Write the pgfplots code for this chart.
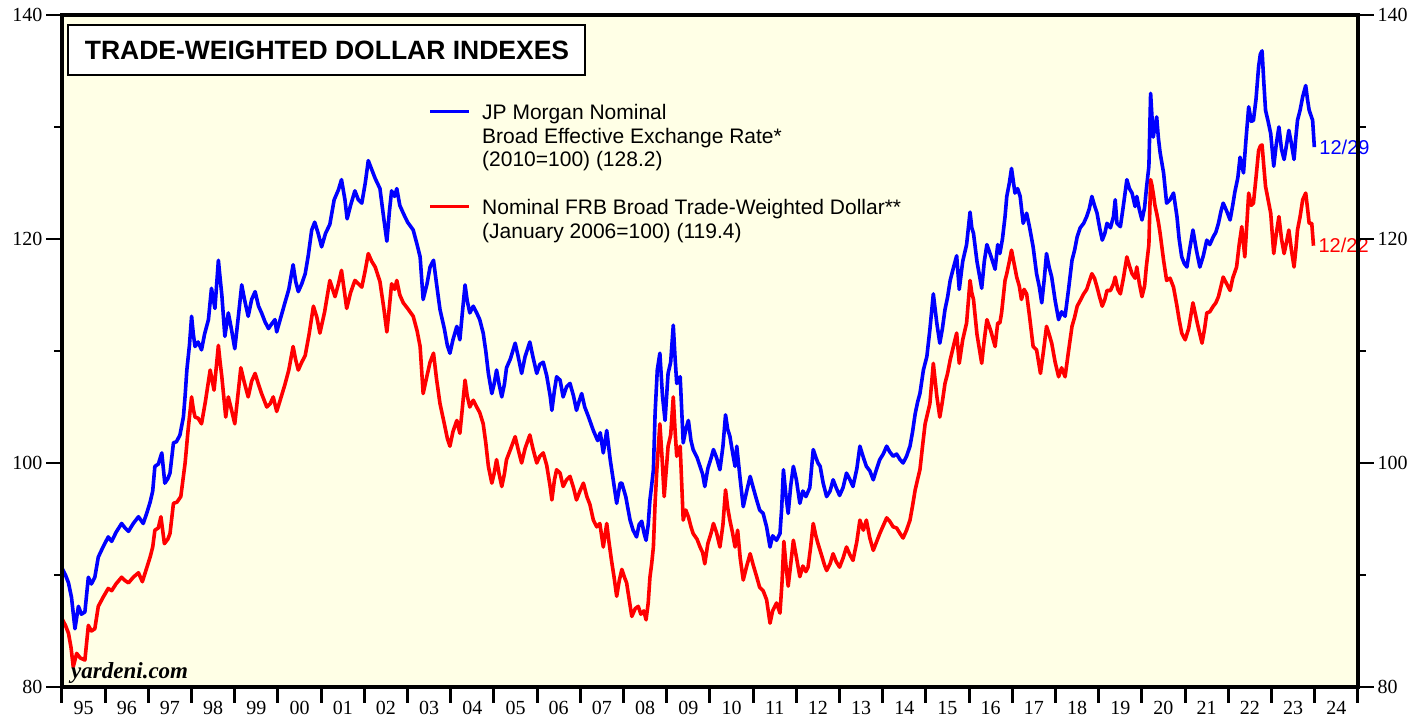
\documentclass[border=0pt]{standalone}
\usepackage{fontspec}
\setmainfont{Liberation Serif}
\newfontfamily\arialfont{Liberation Sans}
\usepackage{pgfplots}
\usepackage{pgfplotstable}
\pgfplotsset{compat=1.18}
\definecolor{bgyellow}{RGB}{255,255,230}
\definecolor{jpblue}{RGB}{0,0,255}
\definecolor{frbred}{RGB}{255,0,0}

\pgfplotstableread{
t v
1995.00 90.6
1995.08 90.0
1995.15 89.3
1995.22 88.0
1995.30 85.2
1995.38 87.2
1995.45 86.5
1995.53 86.7
1995.61 89.8
1995.68 89.2
1995.76 89.8
1995.84 91.6
1995.95 92.5
1996.07 93.4
1996.15 93.0
1996.25 93.8
1996.38 94.6
1996.46 94.2
1996.54 93.9
1996.65 94.6
1996.77 95.2
1996.88 94.6
1996.96 95.5
1997.04 96.5
1997.10 97.5
1997.15 99.7
1997.23 99.9
1997.31 100.9
1997.38 98.2
1997.45 98.6
1997.50 99.1
1997.58 101.8
1997.65 101.9
1997.73 102.5
1997.81 104.1
1997.85 106.0
1997.89 108.3
1997.95 110.5
1998.00 113.1
1998.04 111.5
1998.08 110.4
1998.15 110.8
1998.23 110.1
1998.30 111.5
1998.39 112.8
1998.46 115.6
1998.54 113.8
1998.62 118.1
1998.66 116.5
1998.70 115.0
1998.77 111.3
1998.85 113.4
1998.92 112.0
1999.00 110.2
1999.08 113.0
1999.16 115.9
1999.23 114.5
1999.31 113.1
1999.39 114.6
1999.47 115.3
1999.55 114.0
1999.62 113.4
1999.70 112.6
1999.78 112.0
1999.85 112.4
1999.93 112.8
1999.97 111.7
2000.05 112.8
2000.16 114.3
2000.25 115.5
2000.35 117.7
2000.41 116.2
2000.47 115.3
2000.55 116.0
2000.63 116.9
2000.70 118.5
2000.78 120.8
2000.85 121.5
2000.93 120.5
2001.01 119.3
2001.10 120.5
2001.20 121.3
2001.30 123.5
2001.40 124.4
2001.47 125.3
2001.55 123.5
2001.60 121.8
2001.68 123.0
2001.78 124.3
2001.86 123.5
2001.94 123.2
2002.02 125.0
2002.09 127.0
2002.17 126.2
2002.25 125.4
2002.36 124.5
2002.45 121.8
2002.52 119.8
2002.58 122.5
2002.63 124.3
2002.70 123.8
2002.75 124.5
2002.82 123.0
2002.90 122.3
2003.00 121.5
2003.13 120.8
2003.22 119.5
2003.29 118.4
2003.36 114.6
2003.45 116.0
2003.52 117.5
2003.60 118.1
2003.67 116.0
2003.75 113.7
2003.85 112.0
2003.92 110.5
2003.98 109.8
2004.05 111.0
2004.14 112.2
2004.21 111.0
2004.27 113.5
2004.33 115.9
2004.38 114.5
2004.44 113.4
2004.52 114.0
2004.60 113.4
2004.67 112.8
2004.75 111.6
2004.81 110.0
2004.87 108.0
2004.95 106.2
2005.00 107.0
2005.06 108.3
2005.12 107.0
2005.18 105.9
2005.24 107.0
2005.29 108.5
2005.38 109.3
2005.49 110.7
2005.56 109.5
2005.64 108.0
2005.72 109.5
2005.83 110.8
2005.90 109.5
2005.99 108.0
2006.06 108.8
2006.14 109.0
2006.22 107.8
2006.30 106.0
2006.34 104.7
2006.40 106.5
2006.45 107.7
2006.53 107.4
2006.60 105.9
2006.68 106.8
2006.76 107.1
2006.84 106.0
2006.91 104.7
2006.97 105.5
2007.03 106.2
2007.10 105.0
2007.18 104.2
2007.30 102.9
2007.40 102.0
2007.46 102.7
2007.53 100.9
2007.61 102.9
2007.69 100.3
2007.76 98.5
2007.84 96.4
2007.92 98.2
2007.96 98.2
2008.05 97.0
2008.15 94.9
2008.22 94.0
2008.30 93.4
2008.36 94.5
2008.42 94.8
2008.47 93.8
2008.52 93.1
2008.57 94.5
2008.61 96.7
2008.65 98.0
2008.69 99.4
2008.73 104.5
2008.78 108.3
2008.84 109.8
2008.90 106.0
2008.96 103.8
2009.03 108.0
2009.09 109.0
2009.15 112.3
2009.19 109.5
2009.23 107.1
2009.31 107.7
2009.38 101.8
2009.44 103.0
2009.50 103.8
2009.56 102.0
2009.61 101.2
2009.70 100.5
2009.77 99.7
2009.83 99.0
2009.88 97.9
2009.95 99.5
2010.03 100.5
2010.08 101.2
2010.15 100.5
2010.23 99.4
2010.30 101.5
2010.36 104.3
2010.41 103.0
2010.46 102.4
2010.52 101.0
2010.58 99.7
2010.62 101.5
2010.70 98.5
2010.77 96.1
2010.85 97.5
2010.93 98.8
2011.00 97.8
2011.08 96.7
2011.15 95.8
2011.23 95.5
2011.31 94.3
2011.39 92.5
2011.45 93.5
2011.54 93.1
2011.62 93.7
2011.66 96.0
2011.70 99.4
2011.76 97.0
2011.81 95.5
2011.87 98.0
2011.93 99.7
2012.00 98.5
2012.08 96.4
2012.15 97.5
2012.22 97.0
2012.31 97.8
2012.39 101.2
2012.45 100.5
2012.50 100.0
2012.55 99.7
2012.62 98.2
2012.70 97.0
2012.78 97.5
2012.85 98.5
2012.92 97.8
2013.00 97.1
2013.08 97.8
2013.16 99.1
2013.24 98.5
2013.31 97.9
2013.40 99.5
2013.47 101.5
2013.55 100.5
2013.62 99.7
2013.70 99.3
2013.78 98.5
2013.86 99.5
2013.93 100.3
2014.01 100.8
2014.09 101.5
2014.16 101.0
2014.24 100.6
2014.32 100.8
2014.40 100.3
2014.47 100.0
2014.55 100.6
2014.63 101.5
2014.69 102.8
2014.75 104.4
2014.81 105.5
2014.86 106.2
2014.94 108.3
2015.02 109.5
2015.09 111.9
2015.17 115.1
2015.25 112.5
2015.32 110.7
2015.38 112.0
2015.44 113.7
2015.50 114.8
2015.56 116.3
2015.64 117.5
2015.71 118.5
2015.77 115.5
2015.85 118.0
2015.94 119.5
2016.02 122.4
2016.06 121.0
2016.10 120.5
2016.18 118.0
2016.29 115.6
2016.35 118.0
2016.41 119.5
2016.50 118.5
2016.60 117.3
2016.66 119.5
2016.71 118.7
2016.77 120.0
2016.83 122.0
2016.87 123.8
2016.93 125.0
2016.98 126.3
2017.06 124.1
2017.12 124.5
2017.18 123.8
2017.25 121.4
2017.33 122.3
2017.40 121.0
2017.48 119.3
2017.56 116.9
2017.62 115.8
2017.68 114.3
2017.74 116.5
2017.79 118.7
2017.85 117.5
2017.91 116.6
2017.99 114.5
2018.07 112.8
2018.14 113.5
2018.22 113.1
2018.30 115.5
2018.38 118.1
2018.44 119.0
2018.50 120.2
2018.57 121.0
2018.65 121.4
2018.72 122.0
2018.78 122.7
2018.84 123.8
2018.90 123.0
2018.96 122.3
2019.02 121.0
2019.08 119.9
2019.14 120.5
2019.19 121.4
2019.27 121.0
2019.34 122.0
2019.38 123.5
2019.42 121.4
2019.50 121.1
2019.57 123.0
2019.65 125.3
2019.71 124.5
2019.77 124.1
2019.84 122.9
2019.88 123.8
2019.94 122.6
2020.00 121.7
2020.06 122.8
2020.10 124.4
2020.16 126.5
2020.20 133.0
2020.23 131.0
2020.26 129.1
2020.30 130.0
2020.34 130.9
2020.38 129.0
2020.42 127.7
2020.50 125.9
2020.57 123.2
2020.65 123.5
2020.73 124.1
2020.81 122.0
2020.86 120.0
2020.92 118.4
2020.98 117.8
2021.04 117.5
2021.10 119.0
2021.18 120.8
2021.26 119.0
2021.34 117.5
2021.42 118.5
2021.50 119.9
2021.57 119.5
2021.65 120.2
2021.71 120.6
2021.77 121.4
2021.83 122.5
2021.88 123.2
2021.96 122.5
2022.04 121.7
2022.10 123.0
2022.15 124.2
2022.22 125.5
2022.27 127.3
2022.35 125.9
2022.41 129.0
2022.47 131.8
2022.53 130.5
2022.58 130.6
2022.64 132.5
2022.70 135.4
2022.74 136.5
2022.78 136.8
2022.82 134.0
2022.86 131.5
2022.92 130.5
2022.98 129.4
2023.05 126.5
2023.11 128.5
2023.17 130.0
2023.23 128.0
2023.29 127.1
2023.35 128.5
2023.40 129.7
2023.46 128.5
2023.52 127.1
2023.56 129.0
2023.60 130.6
2023.66 131.5
2023.72 132.7
2023.79 133.7
2023.83 132.5
2023.87 131.5
2023.95 130.6
2023.99 128.2
}\jpm

\pgfplotstableread{
t v
1995.00 86.1
1995.08 85.5
1995.15 84.8
1995.21 83.5
1995.26 81.8
1995.34 83.0
1995.42 82.6
1995.53 82.4
1995.61 85.5
1995.68 85.0
1995.76 85.2
1995.84 87.2
1995.95 88.0
1996.07 88.8
1996.15 88.6
1996.25 89.2
1996.38 89.8
1996.46 89.5
1996.54 89.3
1996.65 89.8
1996.77 90.2
1996.86 89.4
1996.95 90.5
1997.04 91.6
1997.10 92.5
1997.15 94.0
1997.23 94.2
1997.29 95.2
1997.37 92.8
1997.45 93.2
1997.50 93.7
1997.58 96.4
1997.66 96.5
1997.75 97.0
1997.80 98.5
1997.85 100.0
1997.92 103.0
1998.00 105.9
1998.04 104.8
1998.08 104.1
1998.15 104.0
1998.23 103.5
1998.32 105.5
1998.43 108.3
1998.52 106.5
1998.62 110.5
1998.66 109.0
1998.70 107.7
1998.79 104.1
1998.85 105.9
1998.92 104.8
1999.00 103.5
1999.07 106.0
1999.14 108.5
1999.22 107.2
1999.31 105.9
1999.39 107.3
1999.47 108.0
1999.55 107.0
1999.62 106.2
1999.74 105.0
1999.82 105.3
1999.89 105.9
1999.97 104.6
2000.05 105.6
2000.16 107.0
2000.25 108.3
2000.35 110.4
2000.41 109.2
2000.47 108.3
2000.55 109.0
2000.63 109.6
2000.72 111.5
2000.82 114.0
2000.90 113.0
2000.97 111.6
2001.08 113.5
2001.20 116.3
2001.32 114.85
2001.40 116.0
2001.47 117.2
2001.53 115.5
2001.59 113.8
2001.68 115.2
2001.78 116.3
2001.86 116.0
2001.94 115.7
2002.02 117.2
2002.09 118.7
2002.17 118.0
2002.25 117.5
2002.36 116.2
2002.45 113.8
2002.52 111.7
2002.58 114.0
2002.63 116.0
2002.70 115.5
2002.75 116.3
2002.82 115.0
2002.90 114.3
2003.00 113.8
2003.13 113.1
2003.22 111.8
2003.29 110.4
2003.36 106.2
2003.45 107.8
2003.52 109.0
2003.60 109.8
2003.67 107.5
2003.75 105.3
2003.85 103.5
2003.92 102.2
2003.98 101.5
2004.05 102.8
2004.14 103.8
2004.21 102.65
2004.27 105.0
2004.33 107.4
2004.38 106.0
2004.44 105.0
2004.52 105.6
2004.60 105.0
2004.67 104.5
2004.75 103.5
2004.81 101.8
2004.87 99.7
2004.95 98.2
2005.00 99.0
2005.06 100.3
2005.12 99.0
2005.18 97.9
2005.24 99.0
2005.29 100.3
2005.38 101.2
2005.49 102.35
2005.56 101.2
2005.64 100.0
2005.72 101.3
2005.83 102.5
2005.90 101.3
2005.99 100.0
2006.06 100.6
2006.14 100.9
2006.22 99.8
2006.30 97.9
2006.34 96.7
2006.40 98.5
2006.45 99.4
2006.53 99.1
2006.60 97.9
2006.68 98.5
2006.76 98.8
2006.84 97.8
2006.91 96.7
2006.99 97.5
2007.07 98.2
2007.15 97.0
2007.22 96.3
2007.30 94.9
2007.38 94.3
2007.45 94.6
2007.53 92.5
2007.61 94.6
2007.66 93.0
2007.72 91.3
2007.78 89.8
2007.84 88.1
2007.90 89.5
2007.96 90.5
2008.02 89.8
2008.07 89.3
2008.13 87.8
2008.19 86.3
2008.27 87.0
2008.34 87.2
2008.40 86.5
2008.47 86.8
2008.52 86.0
2008.57 87.5
2008.61 89.8
2008.65 91.0
2008.69 92.5
2008.73 96.5
2008.77 99.4
2008.84 103.5
2008.89 100.5
2008.94 97.0
2009.03 101.5
2009.09 102.5
2009.15 105.9
2009.19 103.0
2009.23 100.6
2009.31 101.5
2009.38 94.9
2009.44 95.8
2009.50 95.2
2009.56 94.3
2009.61 93.7
2009.70 93.2
2009.77 92.5
2009.83 92.0
2009.88 91.0
2009.95 92.8
2010.03 93.8
2010.08 94.6
2010.15 93.8
2010.23 92.5
2010.30 94.5
2010.36 97.6
2010.41 96.0
2010.46 94.9
2010.52 93.8
2010.58 92.5
2010.64 94.0
2010.70 91.5
2010.77 89.55
2010.85 90.8
2010.93 91.9
2011.00 90.9
2011.08 89.85
2011.15 88.9
2011.23 88.6
2011.31 87.8
2011.39 85.7
2011.45 86.8
2011.54 87.5
2011.62 86.6
2011.67 89.5
2011.71 93.0
2011.76 90.8
2011.81 89.0
2011.87 91.0
2011.93 93.1
2012.00 91.6
2012.08 89.85
2012.15 90.8
2012.22 90.3
2012.27 90.7
2012.33 92.5
2012.39 94.6
2012.45 93.5
2012.50 92.8
2012.58 91.8
2012.65 90.9
2012.70 90.4
2012.78 91.0
2012.85 91.9
2012.92 91.2
2013.00 90.7
2013.08 91.5
2013.16 92.5
2013.24 91.8
2013.31 91.3
2013.40 93.0
2013.47 94.9
2013.55 94.0
2013.62 94.9
2013.70 93.3
2013.78 92.2
2013.86 93.0
2013.93 93.7
2014.01 94.4
2014.09 95.1
2014.16 94.8
2014.24 94.3
2014.32 94.2
2014.40 93.7
2014.47 93.3
2014.55 94.0
2014.63 94.9
2014.69 96.2
2014.75 97.6
2014.81 98.6
2014.86 99.4
2014.92 101.5
2014.98 103.5
2015.09 105.3
2015.17 108.9
2015.25 106.0
2015.32 104.1
2015.38 105.5
2015.44 107.1
2015.50 108.0
2015.56 109.2
2015.64 110.5
2015.71 111.6
2015.77 108.9
2015.85 111.0
2015.94 112.5
2016.02 116.3
2016.06 115.2
2016.10 114.6
2016.18 111.5
2016.29 108.9
2016.35 111.0
2016.41 112.8
2016.50 111.8
2016.60 110.4
2016.66 112.5
2016.71 112.5
2016.75 113.4
2016.83 116.3
2016.87 116.9
2016.93 118.0
2016.98 119.0
2017.04 117.8
2017.10 116.6
2017.16 115.8
2017.21 114.6
2017.27 115.5
2017.33 115.1
2017.40 113.0
2017.48 110.4
2017.56 110.1
2017.65 108.0
2017.72 110.0
2017.79 112.2
2017.85 111.5
2017.91 110.7
2017.99 109.0
2018.07 107.7
2018.14 108.5
2018.22 107.7
2018.30 110.0
2018.38 112.2
2018.44 113.0
2018.50 114.0
2018.57 114.5
2018.65 115.1
2018.72 115.5
2018.78 116.2
2018.84 116.9
2018.90 116.5
2018.96 115.7
2019.02 114.8
2019.08 114.0
2019.14 114.6
2019.19 115.4
2019.27 115.4
2019.34 116.0
2019.38 116.6
2019.44 115.5
2019.50 115.1
2019.57 116.5
2019.65 118.4
2019.71 117.6
2019.77 116.9
2019.84 116.5
2019.88 117.5
2019.94 116.0
2020.00 114.85
2020.06 115.8
2020.10 117.5
2020.16 119.5
2020.20 125.3
2020.23 124.8
2020.26 124.1
2020.30 123.0
2020.34 122.3
2020.38 121.5
2020.42 120.5
2020.50 118.1
2020.57 116.3
2020.65 116.5
2020.73 115.7
2020.81 114.0
2020.86 112.8
2020.92 111.6
2021.00 111.0
2021.08 112.0
2021.18 114.3
2021.28 112.5
2021.34 111.5
2021.39 110.7
2021.45 112.0
2021.50 113.4
2021.57 113.5
2021.65 114.0
2021.71 114.3
2021.77 114.85
2021.83 115.8
2021.88 116.6
2021.96 116.0
2022.04 115.4
2022.10 116.5
2022.19 117.5
2022.25 119.5
2022.31 121.1
2022.38 118.4
2022.43 121.5
2022.47 124.1
2022.53 123.0
2022.58 123.2
2022.64 125.5
2022.70 127.9
2022.74 128.3
2022.78 128.4
2022.82 126.5
2022.86 124.7
2022.92 123.5
2022.98 122.3
2023.05 118.7
2023.11 120.5
2023.17 122.0
2023.23 120.0
2023.29 118.7
2023.35 119.8
2023.40 120.8
2023.46 119.0
2023.52 117.5
2023.56 119.0
2023.60 120.8
2023.66 122.0
2023.72 123.5
2023.79 124.1
2023.83 122.8
2023.87 121.4
2023.93 121.4
2023.97 119.4
}\frb

\begin{document}
\begin{tikzpicture}
\useasboundingbox (0,0) rectangle (1427pt,719pt);
\begin{axis}[
  at={(62pt,32pt)}, anchor=south west,
  scale only axis, width=1296pt, height=672pt,
  xmin=1995, xmax=2025, ymin=80, ymax=140,
  clip=false,
  axis line style={draw=none},
  axis background/.style={fill=bgyellow},
  tick align=outside,
  xtick pos=bottom, ytick pos=left,
  xtick={1995,1996,...,2025},
  xticklabels={},
  major tick length=16pt, minor tick length=8pt,
  every major x tick/.append style={line width=3pt, black},
  every major y tick/.append style={line width=1.4pt, black},
  every minor y tick/.append style={line width=1.4pt, black},
  extra x ticks={1995.5,1996.5,...,2024.5},
  extra x tick labels={95,96,97,98,99,00,01,02,03,04,05,06,07,08,09,10,11,12,13,14,15,16,17,18,19,20,21,22,23,24},
  extra x tick style={major tick length=0pt, tick label style={yshift=-11pt}},
  ytick={80,100,120,140},
  minor ytick={90,110,130},
  tick label style={font=\fontsize{20}{20}\selectfont},
  /pgf/number format/assume math mode=true,
]
\addplot[jpblue, line width=3.6pt, line join=round] table[x=t,y=v] {\jpm}
  node[pos=1, anchor=west, text=jpblue, font=\arialfont\fontsize{20}{20}\selectfont] {12/29};
\addplot[frbred, line width=3.6pt, line join=round] table[x=t,y=v] {\frb}
  node[pos=1, anchor=west, text=frbred, font=\arialfont\fontsize{20}{20}\selectfont] {12/22};
\draw[line width=4pt, black] (rel axis cs:0,0) rectangle (rel axis cs:1,1);
\end{axis}
\begin{axis}[
  at={(62pt,32pt)}, anchor=south west,
  scale only axis, width=1296pt, height=672pt,
  xmin=1995, xmax=2025, ymin=80, ymax=140,
  axis x line=none, axis y line*=right,
  axis line style={draw=none},
  tick align=outside,
  ytick={80,100,120,140},
  minor ytick={90,110,130},
  major tick length=16pt, minor tick length=8pt,
  every major y tick/.append style={line width=1.4pt, black},
  every minor y tick/.append style={line width=1.4pt, black},
  tick label style={font=\fontsize{20}{20}\selectfont},
  /pgf/number format/assume math mode=true,
]
\end{axis}
% title box
\draw[fill=white, line width=2.2pt] (68pt,644pt) rectangle (585pt,694pt);
\node[font=\arialfont\bfseries\fontsize{26.5}{26.5}\selectfont] at (327pt,669pt) {TRADE-WEIGHTED DOLLAR INDEXES};
% legend
\draw[jpblue, line width=3pt] (430pt,607.5pt) -- (469pt,607.5pt);
\draw[frbred, line width=3pt] (430pt,512.5pt) -- (469pt,512.5pt);
\begin{scope}[every node/.style={anchor=base west, inner sep=0pt, font=\arialfont\fontsize{21}{21}\selectfont}]
\node at (482pt,599pt) {JP Morgan Nominal};
\node at (482pt,575.7pt) {Broad Effective Exchange Rate*};
\node at (482pt,552.3pt) {(2010=100) (128.2)};
\node at (482pt,504pt) {Nominal FRB Broad Trade-Weighted Dollar**};
\node at (482pt,480.7pt) {(January 2006=100) (119.4)};
\end{scope}
\node[anchor=base west, inner sep=0pt, font=\bfseries\itshape\fontsize{23}{23}\selectfont] at (71pt,40pt) {yardeni.com};
\end{tikzpicture}
\end{document}
